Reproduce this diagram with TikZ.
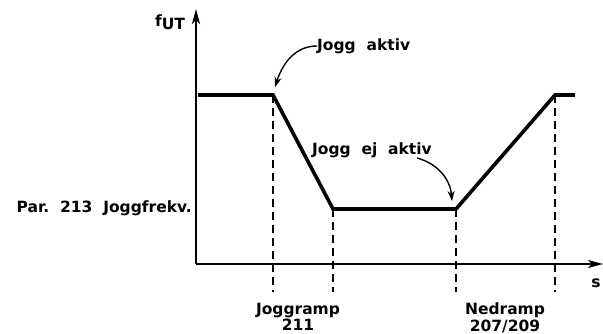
\documentclass[tikz,border=0pt]{standalone}
\usepackage{fontspec}
\setmainfont{DejaVu Sans}
\usetikzlibrary{arrows.meta}

\begin{document}
\begin{tikzpicture}[x=1pt,y=1pt,
  axis/.style={line width=1.4pt,-{Stealth[length=15pt,width=8pt,inset=4pt]}},
  speed/.style={line width=3.6pt,line join=miter},
  guide/.style={line width=1.4pt,dash pattern=on 8pt off 5pt},
  pointer/.style={line width=1.4pt,-{Stealth[length=10pt,width=7pt,inset=3pt]}},
  lbl/.style={font=\fontsize{15.5}{16.5}\selectfont\bfseries,inner sep=0pt}]
\useasboundingbox (0,0) rectangle (603,334);

\coordinate (O) at (196,70);
\coordinate (ytop) at (196,325);
\coordinate (xend) at (603,70);
\coordinate (bot) at (0,42);
\draw[axis] (O) -- (ytop);
\draw[axis] (O) -- (xend);

\coordinate (p0) at (198,239);
\coordinate (p1) at (273,239);
\coordinate (p2) at (333,125);
\coordinate (p3) at (456,125);
\coordinate (p4) at (555,239);
\coordinate (p5) at (575,239);
\draw[speed] (p0) -- (p1) -- (p2) -- (p3) -- (p4) -- (p5);

\draw[guide] (p1) -- (p1 |- bot);
\draw[guide] (p2) -- (p2 |- bot);
\draw[guide] (p3) -- (p3 |- bot);
\draw[guide] (p4) -- (p4 |- bot);

\node[lbl] (fut) at (170,312) {f\raisebox{-3pt}{UT}};
\node[lbl] (s) at (596,51) {s};
\node[lbl,anchor=east] (par) at (192,126) {Par.\ \ 213\ \ Joggfrekv.};
\node[lbl,align=center,anchor=north] (jramp) at (298,31) {Joggramp\\211};
\node[lbl,align=center,anchor=north] (nramp) at (505,31) {Nedramp\\207/209};

\node[lbl,anchor=west] (jon) at (317,288) {Jogg\ \ aktiv};
\coordinate (t1) at (275,247);
\draw[pointer] (jon.west) to[out=180,in=72] (t1);

\node[lbl] (joff) at (372,184) {Jogg\ \ ej\ \ aktiv};
\coordinate (s2) at (417,176);
\coordinate (t2) at (452,133);
\draw[pointer] (s2) to[out=-15,in=95] (t2);

\end{tikzpicture}
\end{document}
